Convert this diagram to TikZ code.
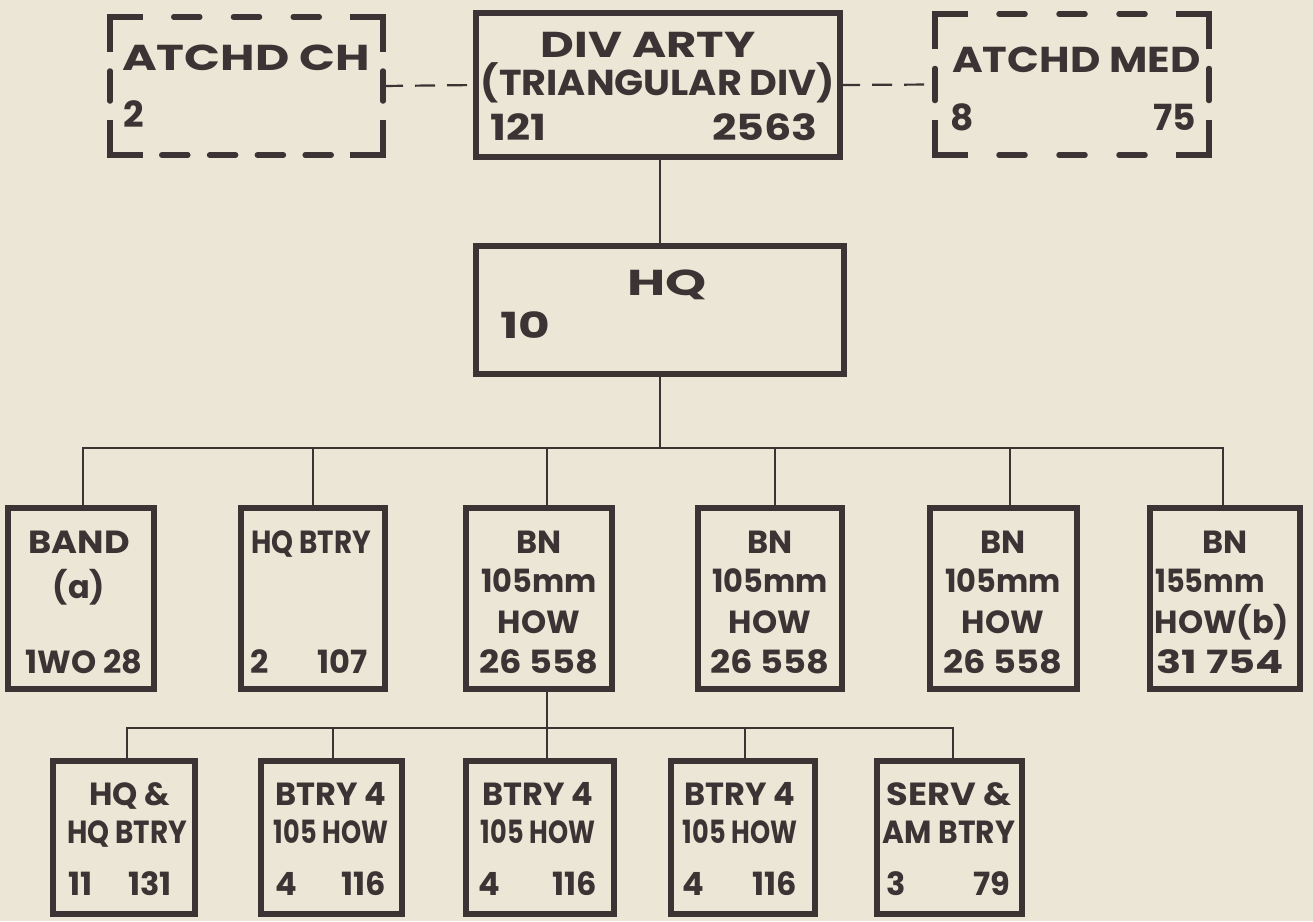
\documentclass[tikz,border=0pt]{standalone}
\usepackage{graphicx}
\usepackage{fontspec}
\setmainfont{Poppins}
\usetikzlibrary{calc}
\definecolor{paper}{RGB}{236,230,214}
\definecolor{ink}{RGB}{58,52,52}
\newcommand{\hsc}[2]{\scalebox{#1}[1]{#2}}
\begin{document}
\begin{tikzpicture}[x=1pt,y=-1pt,
  box/.style={draw=ink, line width=5.5pt, rectangle, inner sep=0pt, outer sep=0pt},
  dbox/.style={rectangle, inner sep=0pt, outer sep=0pt},
  corner/.style={draw=ink, line width=5.5pt, line cap=rect},
  dline/.style={draw=ink, line width=5.5pt, line cap=round},
  conn/.style={draw=ink, line width=2.2pt},
  dconn/.style={conn, dash pattern=on 20pt off 12pt},
  txt/.style={text=ink, font=\fontsize{32}{32}\selectfont\bfseries, inner sep=0pt, anchor=base},
  big/.style={font=\fontsize{36}{36}\selectfont\bfseries},
  txtl/.style={txt, anchor=base west},
  txtr/.style={txt, anchor=base east}]
\fill[paper] (0,0) rectangle (1313,921);
\useasboundingbox (0,0) rectangle (1313,921);

% top row
\node[dbox, minimum width=273pt, minimum height=138pt] (ch) at (246.5,86) {};
\node[box, minimum width=364pt, minimum height=144pt] (div) at (658,85) {};
\node[dbox, minimum width=274pt, minimum height=141pt] (med) at (1072,84.5) {};
\node[box, minimum width=368pt, minimum height=128pt] (hq) at (660,310) {};
\foreach \b in {ch,med}{
  \draw[corner] ($(\b.north west)+(0,32)$) -- (\b.north west) -- ++(30,0);
  \draw[corner] ($(\b.north east)+(0,32)$) -- (\b.north east) -- ++(-30,0);
  \draw[corner] ($(\b.south west)+(0,-32)$) -- (\b.south west) -- ++(30,0);
  \draw[corner] ($(\b.south east)+(0,-32)$) -- (\b.south east) -- ++(-30,0);
}
% dashed sides of ATCHD CH
\draw[dline, dash pattern=on 26pt off 33.75pt, dash phase=26pt]
  ($(ch.north west)+(30,0)$) -- ($(ch.north east)+(-30,0)$);
\draw[dline, dash pattern=on 26pt off 21.8pt, dash phase=26pt]
  ($(ch.south west)+(30,0)$) -- ($(ch.south east)+(-30,0)$);
\draw[dline, dash pattern=on 30pt off 22pt, dash phase=30pt]
  ($(ch.north west)+(0,32)$) -- ($(ch.south west)+(0,-32)$);
\draw[dline, dash pattern=on 30pt off 22pt, dash phase=30pt]
  ($(ch.north east)+(0,32)$) -- ($(ch.south east)+(0,-32)$);
% dashed sides of ATCHD MED
\draw[dline, dash pattern=on 26pt off 34pt, dash phase=26pt]
  ($(med.north west)+(30,0)$) -- ($(med.north east)+(-30,0)$);
\draw[dline, dash pattern=on 26pt off 34pt, dash phase=26pt]
  ($(med.south west)+(30,0)$) -- ($(med.south east)+(-30,0)$);
\draw[dline, dash pattern=on 32pt off 22.5pt, dash phase=32pt]
  ($(med.north west)+(0,32)$) -- ($(med.south west)+(0,-32)$);
\draw[dline, dash pattern=on 32pt off 22.5pt, dash phase=32pt]
  ($(med.north east)+(0,32)$) -- ($(med.south east)+(0,-32)$);

% second row
\node[box, minimum width=146pt, minimum height=181pt] (band) at (81,598.5) {};
\node[box, minimum width=144pt, minimum height=181pt] (hqb) at (313,598.5) {};
\node[box, minimum width=146pt, minimum height=181pt] (bn1) at (539,598.5) {};
\node[box, minimum width=144pt, minimum height=181pt] (bn2) at (770,598.5) {};
\node[box, minimum width=147pt, minimum height=181pt] (bn3) at (1003.5,598.5) {};
\node[box, minimum width=150pt, minimum height=181pt] (bn4) at (1225,598.5) {};

% third row
\node[box, minimum width=142pt, minimum height=153pt] (s1) at (124,837.5) {};
\node[box, minimum width=141pt, minimum height=153pt] (s2) at (331.5,837.5) {};
\node[box, minimum width=148pt, minimum height=153pt] (s3) at (540,837.5) {};
\node[box, minimum width=144pt, minimum height=153pt] (s4) at (743,837.5) {};
\node[box, minimum width=145pt, minimum height=153pt] (s5) at (949.5,837.5) {};

% connectors
\coordinate (bus) at (660,448);
\coordinate (sub) at (547,728);
\draw[dconn] (ch.east) -- (div.west);
\draw[dconn] (div.east) -- (med.west);
\draw[conn] (div.south -| hq.north) -- (hq.north);
\draw[conn] (hq.south) -- (bus);
\foreach \n/\x in {band/83,hqb/313,bn1/547,bn2/775,bn3/1010,bn4/1223}{
  \draw[conn] (\x,0 |- \n.north) -- (\x,448) -- (bus);
}
\draw[conn] (547,0 |- bn1.south) -- (sub);
\foreach \n/\x in {s1/127,s2/333,s3/547,s4/745,s5/953}{
  \draw[conn] (\x,0 |- \n.north) -- (\x,728) -- (sub);
}

% texts top
\node[txtl,big] (tch1) at (122,70) {\hsc{1.31}{ATCHD CH}};
\node[txtl,big] (tch2) at (123,127) {2};
\node[txt,big] (tdiv1) at (648,57) {\hsc{1.29}{DIV ARTY}};
\node[txt,big] (tdiv2) at (658,95) {\hsc{1.06}{(TRIANGULAR DIV)}};
\node[txtl,big] (tdiv3) at (490,140) {\hsc{1.17}{121}};
\node[txtr,big] (tdiv4) at (818,140) {\hsc{1.19}{2563}};
\node[txtl,big] (tmed1) at (952,72) {\hsc{1.16}{ATCHD MED}};
\node[txtl,big] (tmed2) at (950,130) {8};
\node[txtr,big] (tmed3) at (1196,130) {75};
\node[txtl,big] (thq1) at (627,295) {\hsc{1.45}{HQ}};
\node[txtl,big] (thq2) at (500,338) {\hsc{1.35}{10}};

% second row texts
\node[txt] (tband1) at (79,553) {\hsc{1.1}{BAND}};
\node[txt] (tband2) at (79,598) {(a)};
\node[txt] (tband3) at (84,673) {1WO 28};
\node[txt] (thqb1) at (311,553) {\hsc{0.87}{HQ BTRY}};
\node[txtl] (thqb2) at (250,673) {2};
\node[txtr] (thqb3) at (368,673) {107};
\foreach \n/\x in {a/539,b/770,c/1003}{
  \node[txt] (tbn\n1) at (\x,553) {BN};
  \node[txt] (tbn\n2) at (\x,592) {\hsc{0.95}{105mm}};
  \node[txt] (tbn\n3) at (\x,633) {HOW};
  \node[txt] (tbn\n4) at (\x,673) {\hsc{1.1}{26 558}};
}
\node[txt] (tbnd1) at (1225,553) {BN};
\node[txt] (tbnd2) at (1210,592) {\hsc{0.9}{155mm}};
\node[txt] (tbnd3) at (1222,633) {HOW(b)};
\node[txt] (tbnd4) at (1220,673) {\hsc{1.3}{31 754}};

% third row texts
\node[txt] (ts11) at (130,805) {HQ \&};
\node[txt] (ts12) at (127,843) {\hsc{0.87}{HQ BTRY}};
\node[txtl] (ts13) at (68,895) {11};
\node[txtr] (ts14) at (172,895) {131};
\foreach \n/\x/\l/\r in {2/331/275/386,3/538/478/597,4/740/682/797}{
  \node[txt] (ts\n1) at (\x,805) {BTRY 4};
  \node[txt] (ts\n2) at (\x,843) {\hsc{0.8}{105 HOW}};
  \node[txtl] (ts\n3) at (\l,895) {4};
  \node[txtr] (ts\n4) at (\r,895) {116};
}
\node[txt] (ts51) at (949,805) {\hsc{1.1}{SERV \&}};
\node[txt] (ts52) at (949,843) {\hsc{0.93}{AM BTRY}};
\node[txtl] (ts53) at (886,895) {3};
\node[txtr] (ts54) at (1010,895) {79};
\end{tikzpicture}
\end{document}
